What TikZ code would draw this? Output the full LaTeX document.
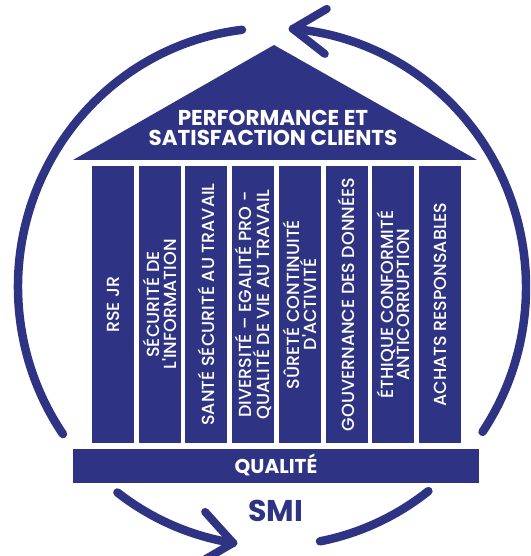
\documentclass[tikz,border=0pt]{standalone}
\usepackage{fontspec}
\setmainfont{Poppins}
\newfontfamily\pillarfont{Poppins Medium}
\definecolor{smiblue}{RGB}{46,52,131}
\begin{document}
\begin{tikzpicture}[x=1pt,y=1pt,
  ring/.style={draw=smiblue,line width=8.5pt,line cap=round},
  chev/.style={draw=smiblue,line width=8pt,line cap=round,line join=round},
  pillar/.style={fill=smiblue,text=white,rotate=90,minimum width=277pt,minimum height=42pt,inner sep=0pt,align=center,font=\pillarfont\fontsize{17.5}{16.5}\selectfont},
  title/.style={text=white,inner sep=0pt,align=center,font=\fontsize{21.5}{19.5}\selectfont\bfseries},
  ]
\useasboundingbox (0,0) rectangle (530,-556);
\clip (0,0) rectangle (530,-556);
\coordinate (C) at (272,-287);
% ring
\draw[ring] (C) ++(96.8:254 and 259) arc[start angle=96.8,end angle=214.6,x radius=254,y radius=259];
\draw[ring] (C) ++(232.5:254 and 259) arc[start angle=232.5,end angle=261.2,x radius=254,y radius=259] coordinate (tipB);
\draw[ring] (C) ++(280.9:254 and 259) arc[start angle=280.9,end angle=308,x radius=254,y radius=259];
\draw[ring] (C) ++(326:254 and 259) arc[start angle=326,end angle=445.3,x radius=254,y radius=259] coordinate (tipT);
\draw[chev] ([shift={(34,20)}]tipT) -- (tipT) -- ([shift={(32,-25)}]tipT);
\draw[chev] ([shift={(-28,31)}]tipB) -- (tipB) -- ([shift={(-36,-21)}]tipB);
% roof
\fill[smiblue] (73,-160) -- (274,-45) -- (477,-160) -- cycle;
\node[title] (roof) at (273,-128) {PERFORMANCE ET\\SATISFACTION CLIENTS};
% pillars
\node[pillar] (p1) at (113,-304.5) {RSE JR};
\node[pillar] (p2) at (159.7,-304.5) {SÉCURITÉ DE\\L'INFORMATION};
\node[pillar] (p3) at (206.4,-304.5) {SANTÉ SÉCURITÉ AU TRAVAIL};
\node[pillar] (p4) at (253.1,-304.5) {DIVERSITÉ – EGALITÉ PRO -\\QUALITÉ DE VIE AU TRAVAIL};
\node[pillar] (p5) at (299.8,-304.5) {SÛRETÉ CONTINUITÉ\\D'ACTIVITÉ};
\node[pillar] (p6) at (346.5,-304.5) {GOUVERNANCE DES DONNÉES};
\node[pillar] (p7) at (393.2,-304.5) {ÉTHIQUE CONFORMITÉ\\ANTICORRUPTION};
\node[pillar] (p8) at (440,-304.5) {ACHATS RESPONSABLES};
% base
\node[fill=smiblue,minimum width=406pt,minimum height=34pt,inner sep=0pt,anchor=north west] (bar) at (73,-449) {};
\node[text=white,inner sep=0pt,anchor=base,font=\fontsize{20}{20}\selectfont\bfseries] (q) at (276,-473) {QUALITÉ};
\node[inner sep=0pt,anchor=base,text=smiblue,font=\fontsize{30}{30}\selectfont\bfseries] (smi) at (275.5,-521) {SMI};
\end{tikzpicture}
\end{document}
